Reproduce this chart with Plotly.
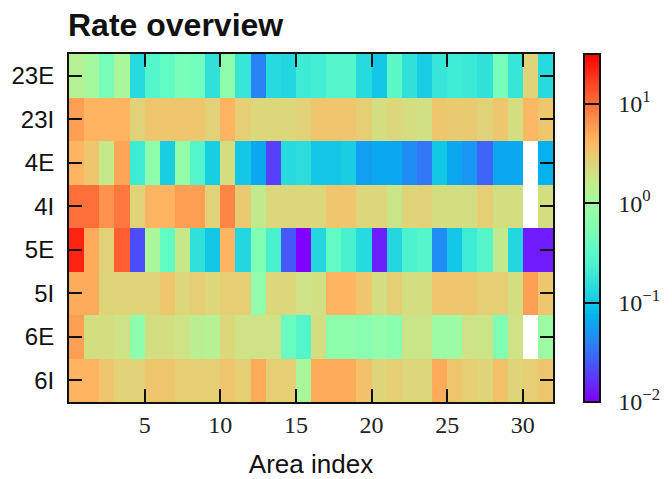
import numpy as np
import plotly.graph_objects as go

# Population rows (top to bottom) and area bin edges along x
populations = ["23E", "23I", "4E", "4I", "5E", "5I", "6E", "6I"]
area_edges = list(range(33))
x_ticks = [5, 10, 15, 20, 25, 30]

# Mean firing rate per population and area (spikes/s); None = no neurons
rate_23E = [1.3, 1.0, 0.50, 1.1, 0.14, 0.28, 0.35, 0.50, 0.45, 0.16, 0.71, 0.18, 0.040, 0.14, 0.13, 0.20,
            0.22, 0.28, 0.28, 0.14, 0.10, 0.32, 0.16, 0.11, 0.18, 0.20, 0.19, 0.16, 0.50, 0.18, 2.5, 0.14]
rate_23I = [5.6, 4.2, 4.2, 4.2, 2.6, 3.3, 3.3, 3.3, 3.3, 2.6, 4.2, 2.8, 2.4, 2.4, 2.4, 2.6,
            3.2, 3.3, 3.3, 2.8, 2.1, 2.4, 2.1, 2.0, 3.2, 3.0, 3.0, 2.6, 3.2, 2.1, 4.0, 3.2]
rate_4E = [4.2, 3.2, 1.7, 5.2, 0.20, 0.71, 0.11, 0.79, 0.28, 0.11, 2.1, 0.10, 0.063, 0.019, 0.14, 0.15,
           0.10, 0.10, 0.11, 0.056, 0.063, 0.063, 0.045, 0.035, 0.10, 0.063, 0.050, 0.028, 0.063, 0.063, None, 0.071]
rate_4I = [10, 10, 6.6, 8.9, 2.6, 4.2, 4.2, 5.6, 5.6, 2.6, 7.6, 3.0, 1.6, 2.4, 2.4, 2.4,
           2.4, 3.3, 3.3, 2.4, 2.4, 1.8, 2.5, 2.6, 2.1, 2.1, 2.1, 2.8, 2.1, 2.1, None, 2.1]
rate_5E = [22, 4.8, 2.6, 12, 0.022, 1.1, 0.35, 1.7, 0.16, 0.10, 4.2, 0.13, 0.56, 0.24, 0.025, 0.010,
           0.13, 0.35, 0.24, 0.14, 0.014, 0.13, 0.25, 0.28, 0.045, 0.10, 0.20, 0.28, 1.6, 0.13, 0.013, 0.013]
rate_5I = [4.8, 4.8, 2.5, 2.5, 2.5, 2.5, 3.2, 2.4, 2.8, 2.4, 2.8, 2.8, 0.76, 2.4, 2.4, 1.9,
           2.0, 4.2, 4.2, 3.2, 2.1, 2.8, 2.1, 2.1, 3.2, 3.2, 3.2, 2.8, 2.8, 2.1, 5.6, 3.3]
rate_6E = [5.6, 2.1, 2.1, 1.9, 0.71, 2.1, 2.1, 1.9, 1.4, 1.3, 2.4, 1.9, 1.9, 1.9, 0.40, 0.28,
           2.1, 0.71, 0.71, 0.63, 0.76, 0.66, 1.8, 1.8, 0.89, 0.89, 1.9, 1.8, 0.56, 1.9, None, 0.89]
rate_6I = [4.2, 4.2, 3.2, 2.6, 2.6, 3.2, 3.2, 2.8, 2.8, 2.8, 3.3, 2.8, 4.8, 2.8, 2.8, 1.1,
           4.8, 4.8, 4.8, 3.5, 2.5, 2.8, 2.4, 2.4, 4.8, 3.2, 2.8, 2.5, 3.5, 2.5, 2.8, 3.3]

rates = [rate_23E, rate_23I, rate_4E, rate_4I, rate_5E, rate_5I, rate_6E, rate_6I]

# Log color scale limits (decades)
log_min, log_max = -2.0, 1.5
cbar_ticks = [-2, -1, 0, 1]
cbar_text = ["10<sup>\u22122</sup>", "10<sup>\u22121</sup>", "10<sup>0</sup>", "10<sup>1</sup>"]

z = np.log10(np.array([[np.nan if v is None else v for v in row] for row in rates], dtype=float))


def rainbow(t):
    r = min(1.0, abs(2 * t - 0.5))
    g = np.sin(np.pi * t)
    b = np.cos(np.pi * t / 2)
    return "rgb({:.0f},{:.0f},{:.0f})".format(255 * r, 255 * max(g, 0), 255 * max(b, 0))


colorscale = [[t, rainbow(t)] for t in np.linspace(0, 1, 41)]

serif = "Liberation Serif"
sans = "Liberation Sans"
ink = "#111111"
pad = "\u00a0\u00a0"  # gap between colorbar and its labels

fig = go.Figure(
    go.Heatmap(
        z=z,
        x=area_edges,
        y=populations,
        zmin=log_min,
        zmax=log_max,
        colorscale=colorscale,
        hoverongaps=False,
        colorbar=dict(
            x=(584 - 69) / 484,
            xanchor="left",
            y=0.5,
            yanchor="middle",
            len=1,
            lenmode="fraction",
            ypad=0,
            xpad=0,
            thickness=16,
            outlinewidth=2,
            outlinecolor=ink,
            tickmode="array",
            tickvals=cbar_ticks,
            ticktext=[pad + t for t in cbar_text],
            ticks="inside",
            ticklen=16,
            tickwidth=1.5,
            tickcolor=ink,
            tickfont=dict(family=serif, size=24, color="#222222"),
        ),
    )
)

fig.update_layout(
    width=672,
    height=479,
    margin=dict(l=69, r=119, t=54, b=77, autoexpand=False),
    paper_bgcolor="white",
    plot_bgcolor="white",
    title=dict(
        text="Rate overview",
        font=dict(family=sans, size=32, color=ink, weight="bold"),
        x=68 / 672,
        xanchor="left",
        xref="container",
        y=1 - 25 / 479,
        yref="container",
        yanchor="middle",
    ),
)

fig.update_xaxes(
    range=[0, 32],
    tickmode="array",
    tickvals=x_ticks,
    ticks="inside",
    ticklen=13,
    tickwidth=2,
    tickcolor=ink,
    mirror="ticks",
    showline=True,
    linewidth=2,
    linecolor=ink,
    showgrid=False,
    zeroline=False,
    tickfont=dict(family=serif, size=24, color="#222222"),
    ticklabelstandoff=0,
    title=dict(text="Area index", font=dict(family=sans, size=26, color=ink), standoff=24),
)

fig.update_yaxes(
    autorange="reversed",
    ticks="inside",
    ticklen=13,
    tickwidth=2,
    tickcolor=ink,
    mirror="ticks",
    showline=True,
    linewidth=2,
    linecolor=ink,
    showgrid=False,
    zeroline=False,
    tickfont=dict(family=sans, size=24, color=ink),
    ticklabelstandoff=8,
)

fig.write_html("out.html")
